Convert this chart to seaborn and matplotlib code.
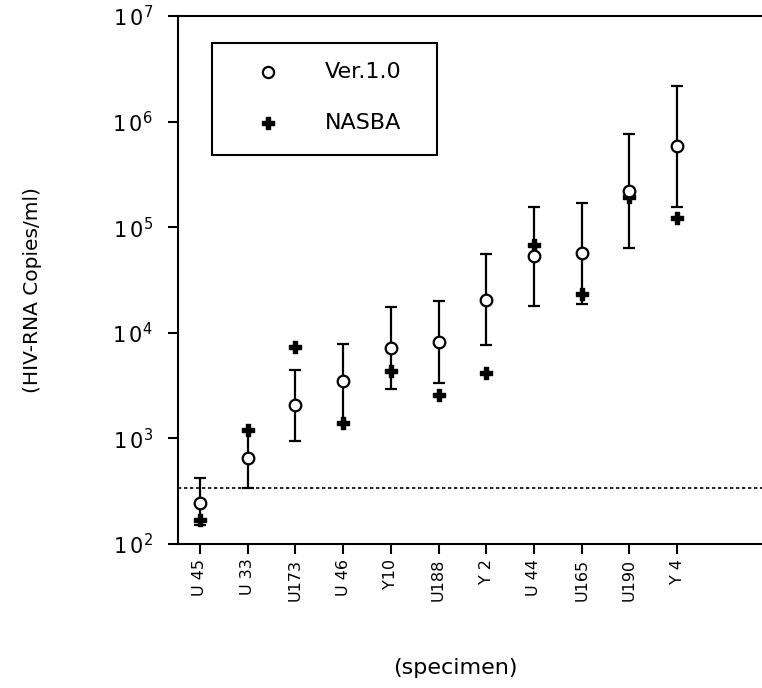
import matplotlib
matplotlib.use("Agg")
import matplotlib.pyplot as plt
from matplotlib.patches import Rectangle
from matplotlib.ticker import NullLocator
import seaborn as sns
import pandas as pd
import numpy as np

specimens = ["U 45", "U 33", "U173", "U 46", "Y10", "U188", "Y 2", "U 44", "U165", "U190", "Y 4"]
ver10 = [245, 650, 2070, 3500, 7230, 8130, 20500, 53300, 56600, 222000, 587000]
ver10_hi = [420, 1200, 4450, 7800, 17400, 20000, 55700, 156000, 168000, 764000, 2170000]
ver10_lo = [150, 340, 950, 1410, 2960, 3330, 7650, 17900, 18700, 63000, 154000]
nasba = [169, 1200, 7340, 1410, 4380, 2580, 4190, 67800, 23300, 195000, 121000]
cutoff = 340
ytick_exps = [2, 3, 4, 5, 6, 7]
legend_labels = ["Ver.1.0", "NASBA"]

sns.set_theme(style="ticks")
plt.rcParams['font.family'] = ['DejaVu Sans']
plt.rcParams['mathtext.default'] = 'regular'
plt.rcParams['text.color'] = 'black'
plt.rcParams['xtick.color'] = 'black'
plt.rcParams['ytick.color'] = 'black'
plt.rcParams['axes.labelcolor'] = 'black'

fig = plt.figure(figsize=(7.62, 6.88), dpi=100)
ax = fig.add_axes([178/762, 1-544/688, 584/762, 528/688])

df = pd.DataFrame({"specimen": specimens, "pos": np.arange(len(specimens)),
                   "ver10": ver10, "nasba": nasba, "lo": ver10_lo, "hi": ver10_hi})

ax.axhline(cutoff, color='black', lw=1.2, ls=(0, (2, 1.6)), zorder=1)
yerr = [df.ver10 - df.lo, df.hi - df.ver10]
ax.errorbar(df.pos, df.ver10, yerr=yerr, fmt='none', ecolor='black',
            elinewidth=1.6, capsize=4.3, capthick=1.6, zorder=2)
sns.scatterplot(data=df, x='pos', y='nasba', marker='P', s=70, color='black',
                edgecolor='black', linewidth=1.0, ax=ax, zorder=3, legend=False)
sns.scatterplot(data=df, x='pos', y='ver10', marker='o', s=70, color='white',
                edgecolor='black', linewidth=1.6, ax=ax, zorder=4, legend=False)

ax.set_yscale('log')
ax.set_ylim(100, 1e7)
ax.set_yticks([10.0**e for e in ytick_exps])
ax.set_yticklabels([r'$1\,0^{%d}$' % e for e in ytick_exps], fontsize=15)
ax.yaxis.set_minor_locator(NullLocator())
ax.set_xlim(-0.461, 11.78)
ax.set_xticks(df.pos)
ax.set_xticklabels(specimens, rotation=90, fontsize=11.5)

ax.tick_params(axis='y', length=7, width=1.5, pad=11, direction='out', colors='black')
ax.tick_params(axis='x', length=7, width=1.5, pad=3.5, direction='out', colors='black')
for s in ['left', 'bottom', 'top']:
    ax.spines[s].set_linewidth(1.5)
    ax.spines[s].set_color('black')
ax.spines['right'].set_visible(False)

ax.set_xlabel('')
ax.set_ylabel('')
fig.text(33/762, 1-290/688, '(HIV-RNA Copies/ml)', rotation=90, ha='center', va='center',
         fontsize=14.5, color='black')
fig.text(455/762, 1-668/688, '(specimen)', ha='center', va='center', fontsize=16, color='black')

# legend box
lx0, ly0 = (212-178)/584, (544-155)/528
lw_, lh_ = (437-212)/584, (155-43)/528
ax.add_patch(Rectangle((lx0, ly0), lw_, lh_, transform=ax.transAxes, fill=False,
                       edgecolor='black', lw=1.5, zorder=5))
mx = (268-178)/584
tx = (325-178)/584
rows = [(544-72)/528, (544-123)/528]
ax.scatter([mx], [rows[0]], transform=ax.transAxes, marker='o', s=65, facecolor='white',
           edgecolor='black', linewidth=1.6, zorder=6, clip_on=False)
ax.scatter([mx], [rows[1]], transform=ax.transAxes, marker='P', s=70, color='black',
           edgecolor='black', linewidth=1.0, zorder=6, clip_on=False)
for lab, ry in zip(legend_labels, rows):
    ax.text(tx, ry, lab, transform=ax.transAxes, ha='left', va='center', fontsize=16, color='black')

fig.savefig('out.png', dpi=100)
